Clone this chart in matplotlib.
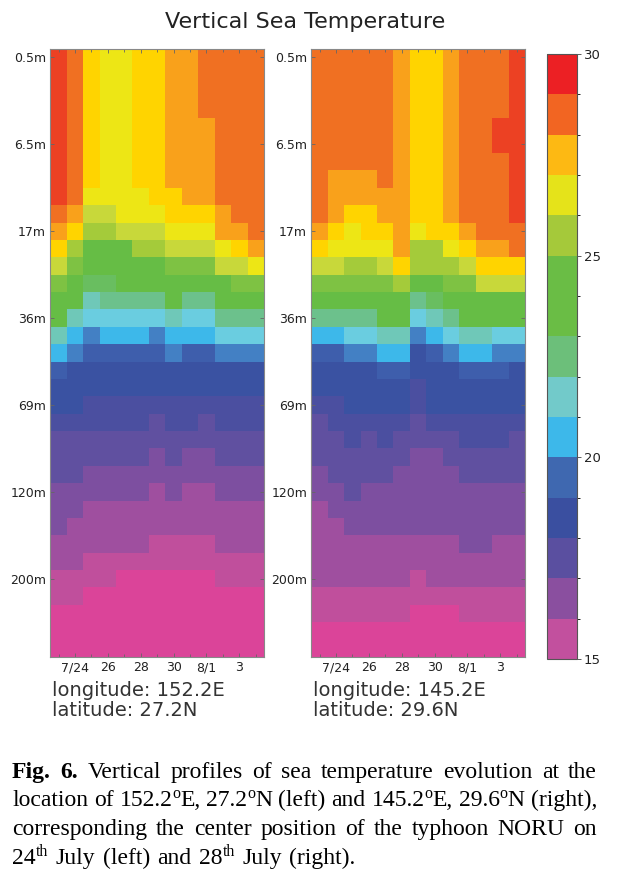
import re
import numpy as np
import matplotlib
matplotlib.use("Agg")
import matplotlib.pyplot as plt
from matplotlib.colors import ListedColormap, BoundaryNorm
from matplotlib.transforms import IdentityTransform

# temperature classes seen in the panels (code -> degC)
level_codes = "PQMUIJDEBSLTNHGFYKWOARX"
level_temps = [15.5, 16.0, 16.5, 17.0, 17.5, 18.0, 18.5, 19.0, 19.5, 20.5, 21.0,
               21.5, 22.5, 23.0, 23.5, 24.5, 25.5, 26.0, 26.5, 27.3, 27.8, 28.5, 29.5]
level_colors = ["#DB4499", "#C04F9C", "#9F4F9F", "#7D4FA0", "#6050A0", "#4B4FA0",
                "#3A52A2", "#3E5EAC", "#4380C4", "#3DB8EA", "#6ACDE0", "#6FC8B8",
                "#6CC18C", "#69BE60", "#66BD45", "#7EC243", "#A4CB3A", "#C8D83A",
                "#EDE615", "#FFD400", "#F9A11B", "#F07022", "#EC4123"]

# 35 depth rows x 13 days (7/23 .. 8/4)
left_rows = [
    "XROWWOOAARRRR", "XROWWOOAARRRR", "XROWWOOAARRRR", "XROWWOOAARRRR",
    "XROWWOOAAARRR", "XROWWOOAAARRR", "XROWWOOAAARRR", "XROWWOOAAARRR",
    "XRWWWWOOAARRR", "RAKKWWWOOOARR", "AOYYKKKWWWAAR", "OYGGGYYKKKWOA",
    "KFGGGGGFFFKKW", "FGHHGGGGGGGFF", "GGTNNNNGNNGGG", "GTLLLLLTLLNNN",
    "TSBSSSBSSSLLL", "SBEEEEEBEEBBB", "EDDDDDDDDDDDD", "DDDDDDDDDDDDD",
    "DDJJJJJJJJJJJ", "JJJJJJIJJIJJJ", "IIIIIIIIIIIII", "IIIIIIUIUUIII",
    "IIUUUUUUUUUUU", "UUUUUUMUMMUUU", "UUMMMMMMMMMMM", "UMMMMMMMMMMMM",
    "MMMMMMQQQQMMM", "MMQQQQQQQQQQQ", "QQQQPPPPPPQQQ", "QQPPPPPPPPPPP",
    "PPPPPPPPPPPPP", "PPPPPPPPPPPPP", "PPPPPPPPPPPPP",
]
right_rows = [
    "RRRRRAOOARRRX", "RRRRRAOOARRRX", "RRRRRAOOARRRX", "RRRRRAOOARRRX",
    "RRRRRAOOARRXX", "RRRRRAOOARRXX", "RRRRRAOOARRRX", "RAAARAOOARRRX",
    "RAAAAAOOARRRX", "RAOOAAOOARRRX", "AOWOOAWOOARRR", "OWWWWAYYWOAAR",
    "KKYYKOYYYKOOO", "FFFFFYGGFFKKK", "GGGGGGNHGGGGG", "NNNNGGLTNGGGG",
    "SSLLTTBSLTTLL", "EEBBSSDEBSSBB", "DDDDEEDDDEEED", "DDDDDDJDDDDDD",
    "JJDDDDJDDDDDD", "IJJJJJIJJJJJJ", "IIJIJIIIIJJJI", "IIIIIIUUIIIII",
    "UIIIIUUUUIIII", "UUIUUUUUUUUUU", "MUUUUUUUUUUUU", "MMUUUUUUUUUUU",
    "MMMMMMMMMUUMM", "MMMMMMMMMMMMM", "MMMMMMQMMMMMM", "QQQQQQQQQQQQQ",
    "QQQQQQPPPQQQQ", "PPPPPPPPPPPPP", "PPPPPPPPPPPPP",
]

depth_labels = ["0.5m", "6.5m", "17m", "36m", "69m", "120m", "200m"]
depth_rows = [0, 5, 10, 15, 20, 25, 30]
date_labels = ["7/24", "26", "28", "30", "8/1", "3"]
date_cols = [1, 3, 5, 7, 9, 11]

cbar_colors = ["#C2509E", "#8A4F9F", "#5A4FA0", "#3A4FA0", "#3F68B0", "#3DB8EA",
               "#72CACA", "#6CBF7A", "#6ABD45", "#6ABD45", "#A5C93A", "#E5E31A",
               "#FDB913", "#F26522", "#EC2024"]

locations = [("longitude: 152.2E", "latitude: 27.2N"),
             ("longitude: 145.2E", "latitude: 29.6N")]

caption = [
    "Fig. 6. Vertical profiles of sea temperature evolution at the",
    "location of 152.2{o}E, 27.2{o}N (left) and 145.2{o}E, 29.6{o}N (right),",
    "corresponding the center position of the typhoon NORU on",
    "24{th} July (left) and 28{th} July (right).",
]


def to_temps(rows):
    return np.array([[level_temps[level_codes.index(c)] for c in r] for r in rows])


W, H = 617, 881
fig = plt.figure(figsize=(W / 100, H / 100), dpi=100)
fig.patch.set_facecolor("white")

edges = [level_temps[0] - 0.5] + [(a + b) / 2 for a, b in zip(level_temps[:-1], level_temps[1:])] + [level_temps[-1] + 0.5]
cmap = ListedColormap(level_colors)
norm = BoundaryNorm(edges, cmap.N)

panels = [(50.3, to_temps(left_rows)), (311.3, to_temps(right_rows))]
top, bottom = 48.7, 657.0
for k, (x0, data) in enumerate(panels):
    ax = fig.add_axes([x0 / W, 1 - bottom / H, 213.7 / W, (bottom - top) / H])
    nr, nc = data.shape
    ax.pcolormesh(np.arange(nc + 1) - 0.5, np.arange(nr + 1) - 0.5, data,
                  cmap=cmap, norm=norm, edgecolors="none", antialiased=False)
    ax.set_xlim(-0.5, nc - 0.5)
    ax.set_ylim(nr - 0.5, -0.5)
    ax.set_xticks(date_cols)
    ax.set_xticklabels(date_labels)
    ax.set_xticks(np.arange(nc), minor=True)
    ax.set_yticks(depth_rows)
    ax.set_yticklabels(depth_labels)
    ax.tick_params(which="both", direction="in", top=True, right=True,
                   length=3, width=0.6, color="#666", labelsize=9, labelcolor="#222", pad=3)
    ax.tick_params(which="minor", length=2.5)
    for s in ax.spines.values():
        s.set_color("#888")
        s.set_linewidth(0.8)
    fig.text((x0 + 2) / W, 1 - 690 / H, locations[k][0], fontsize=14, color="#333", va="center")
    fig.text((x0 + 2) / W, 1 - 711 / H, locations[k][1], fontsize=14, color="#333", va="center")

cax = fig.add_axes([547 / W, 1 - 659 / H, 30 / W, 605 / H])
sm = plt.cm.ScalarMappable(cmap=ListedColormap(cbar_colors), norm=BoundaryNorm(np.arange(15, 31), 15))
cb = fig.colorbar(sm, cax=cax, ticks=[15, 20, 25, 30])
cb.outline.set_edgecolor("#555")
cb.outline.set_linewidth(0.8)
cax.tick_params(labelsize=9.5, length=3, width=0.6, color="#444", labelcolor="#222", pad=2)

fig.text(305 / W, 1 - 22 / H, "Vertical Sea Temperature", ha="center", va="center",
         fontsize=16, color="#222")

# caption, justified by hand
renderer = fig.canvas.get_renderer()
x_left, x_right = 12, 597
baselines = [778, 806, 835, 864]
for i, line in enumerate(caption):
    words = []
    for j, w in enumerate(line.split(" ")):
        parts = []
        for seg in re.split(r"(\{[^}]*\})", w):
            if not seg:
                continue
            sup = seg.startswith("{")
            kw = dict(family="Liberation Serif", color="black", va="baseline",
                      transform=IdentityTransform(), fontsize=11.5 if sup else 17)
            if i == 0 and j < 2:
                kw["fontweight"] = "bold"
            t = fig.text(0, 0, seg.strip("{}"), **kw)
            parts.append((t, t.get_window_extent(renderer).width, sup))
        words.append(parts)
    widths = [sum(p[1] for p in ws) for ws in words]
    if i < len(caption) - 1:
        gap = (x_right - x_left - sum(widths)) / (len(words) - 1)
    else:
        gap = 7.5
    x = x_left
    yb = H - baselines[i]
    for ws in words:
        for t, pw, sup in ws:
            t.set_position((x, yb + (8 if sup else 0)))
            x += pw
        x += gap

fig.savefig("out.png", dpi=100, facecolor="white")
